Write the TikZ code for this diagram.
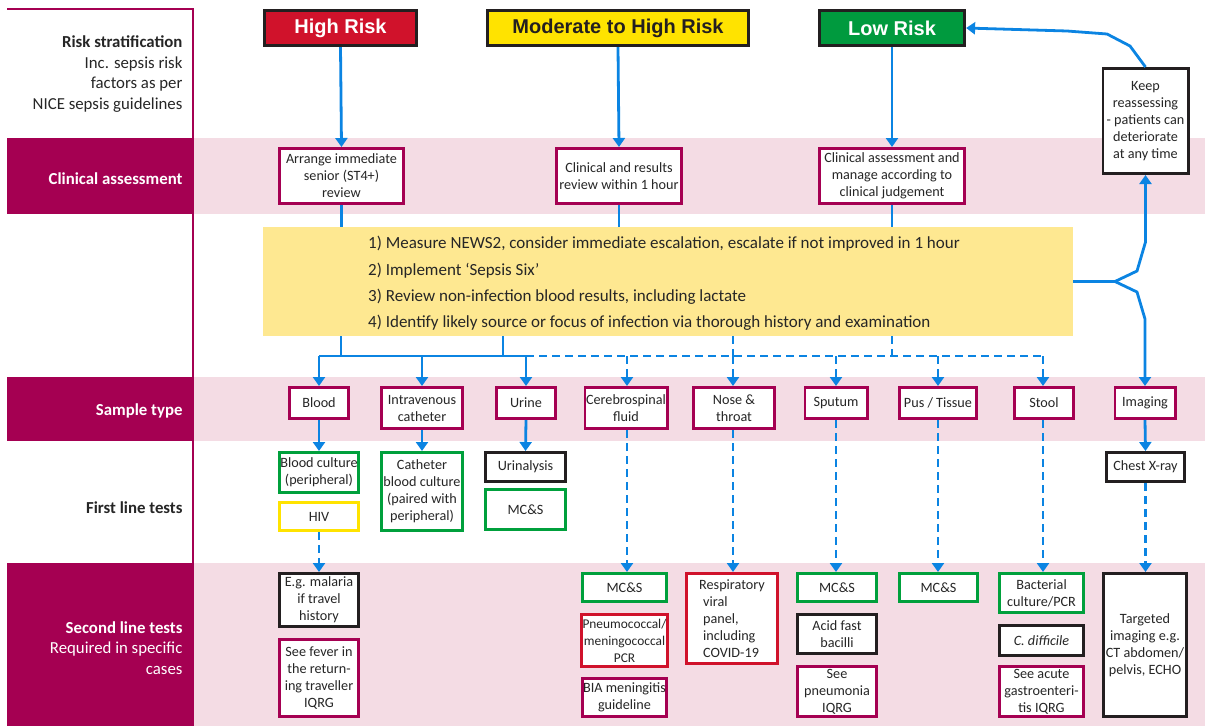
\documentclass[tikz,border=0pt]{standalone}
\usepackage{fontspec}
\setmainfont{Carlito}
\newfontfamily\hdfont{Liberation Sans}
\usetikzlibrary{arrows.meta}
\definecolor{mag}{HTML}{A50052}
\definecolor{pinkbg}{HTML}{F4DCE4}
\definecolor{blu}{HTML}{0B84E2}
\definecolor{ylw}{HTML}{FFE300}
\definecolor{ylwbox}{HTML}{FEE891}
\definecolor{grn}{HTML}{00A03C}
\definecolor{hgrn}{HTML}{009A3E}
\definecolor{rd}{HTML}{D0122B}
\definecolor{blk}{HTML}{231F20}
\definecolor{txt}{HTML}{262626}
\tikzset{
  box/.style={draw=#1, line width=2.8pt, fill=white, inner sep=1pt, align=center,
    font=\fontsize{14.2}{17}\selectfont, text=txt},
  wh/.style 2 args={minimum width={#1pt-2.8pt}, minimum height={#2pt-2.8pt}},
  hdr/.style={draw=blk, line width=3pt, font=\hdfont\bfseries\fontsize{20}{24}\selectfont},
  ln/.style={blu, line width=2.8pt},
  arr/.style={blu, line width=2.8pt, -{Triangle[width=12pt,length=9pt]}},
  dsh/.style={dash pattern=on 8pt off 5pt},
  lbl/.style={anchor=east, align=right, font=\fontsize{16.8}{20.5}\selectfont},
}
\begin{document}
\begin{tikzpicture}[x=1pt,y=-1pt]
\useasboundingbox (0,0) rectangle (1205,726);
% bands
\fill[pinkbg] (193,138) rectangle (1205,214);
\fill[pinkbg] (193,377) rectangle (1205,441);
\fill[pinkbg] (193,563) rectangle (1205,726);
\fill[mag] (7,138) rectangle (193,214);
\fill[mag] (7,377) rectangle (193,441);
\fill[mag] (7,563) rectangle (193,726);
\draw[mag, line width=2pt] (7,9) -- (193,9) -- (193,726);
% left labels
\node[lbl, text=txt] (l1) at (186,74) {\textbf{Risk stratification}\\Inc. sepsis risk\\factors as per\\NICE sepsis guidelines};
\node[lbl, text=white] (l2) at (186,179) {\textbf{Clinical assessment}};
\node[lbl, text=white] (l3) at (186,411) {\textbf{Sample type}};
\node[lbl, text=txt] (l4) at (186,508) {\textbf{First line tests}};
\node[lbl, text=white] (l5) at (186,648) {\textbf{Second line tests}\\Required in specific\\cases};
% headers
\node[hdr, fill=rd, text=white, wh={155}{38}] (hr) at (340.5,28) {High Risk};
\node[hdr, fill=ylw, text=blk, wh={264}{38}] (mr) at (618,28) {Moderate to High Risk};
\node[hdr, fill=hgrn, text=white, wh={148}{38}] (lr) at (892,28) {Low Risk};
% clinical
\node[box=mag, wh={127}{58}] (ca1) at (341.5,176) {Arrange immediate\\senior (ST4+)\\review};
\node[box=mag, wh={128}{58}] (ca2) at (619,176) {Clinical and results\\review within 1 hour};
\node[box=mag, wh={148}{58}] (ca3) at (892,176) {Clinical assessment and\\manage according to\\clinical judgement};
\node[box=blk, wh={88}{108}] (keep) at (1145.5,121) {Keep\\reassessing\\- patients can\\deteriorate\\at any time};
% yellow box
\node[fill=ylwbox, minimum width=810pt, minimum height=109pt, inner sep=0pt] (yel) at (668,281.5) {};
\node[anchor=west, align=left, inner sep=0pt, text=txt, font=\fontsize{17}{26.3}\selectfont] (yeltext) at (368,283.5)
 {1) Measure NEWS2, consider immediate escalation, escalate if not improved in 1 hour\\
  2) Implement `Sepsis Six'\\
  3) Review non-infection blood results, including lactate\\
  4) Identify likely source or focus of infection via thorough history and examination};
% sample types
\node[box=mag, wh={62}{34}] (blood) at (319,403) {Blood};
\node[box=mag, wh={84}{44}] (iv) at (422,408) {Intravenous\\catheter};
\node[box=mag, wh={62}{34}] (urine) at (526,403) {Urine};
\node[box=mag, wh={85}{44}] (csf) at (626,408) {Cerebrospinal\\fluid};
\node[box=mag, wh={84}{44}] (nose) at (734,408) {Nose \&\\throat};
\node[box=mag, wh={65}{34}] (sput) at (836,403) {Sputum};
\node[box=mag, wh={80}{34}] (pus) at (938,403) {Pus / Tissue};
\node[box=mag, wh={62}{34}] (stool) at (1044,403) {Stool};
\node[box=mag, wh={63}{34}] (img) at (1145,403) {Imaging};
% first line
\node[box=grn, wh={82}{43}] (bc) at (319,472.5) {Blood culture\\(peripheral)};
\node[box=ylw, wh={82}{31}] (hiv) at (319,516.5) {HIV};
\node[box=grn, wh={84}{81}] (cbc) at (422,491.5) {Catheter\\blood culture\\(paired with\\peripheral)};
\node[box=blk, wh={83}{32}] (ua) at (525.5,467) {Urinalysis};
\node[box=grn, wh={83}{43}] (mcs1) at (525.5,509.5) {MC\&S};
\node[box=blk, wh={81}{32}] (cxr) at (1145.5,467) {Chest X-ray};
% second line
\node[box=blk, wh={82}{56}] (mal) at (319,600) {E.g. malaria\\if travel\\history};
\node[box=mag, wh={82}{80}] (fever) at (319,678) {See fever in\\the return-\\ing traveller\\IQRG};
\node[box=grn, wh={87}{31}] (mcs2) at (624.5,587.5) {MC\&S};
\node[box=rd, wh={87}{55}, font=\fontsize{13.4}{17}\selectfont] (pcr) at (624.5,640.5) {Pneumococcal/\\meningococcal\\PCR};
\node[box=mag, wh={87}{41}] (bia) at (624.5,697.5) {BIA meningitis\\guideline};
\node[box=rd, wh={94}{93}, align=left] (resp) at (732,618.5) {Respiratory\\\hspace*{4pt}viral\\\hspace*{4pt}panel,\\\hspace*{4pt}including\\\hspace*{4pt}COVID-19};
\node[box=grn, wh={82}{31}] (mcs3) at (837,587.5) {MC\&S};
\node[box=blk, wh={82}{42}] (afb) at (837,634) {Acid fast\\bacilli};
\node[box=mag, wh={82}{53}] (pneu) at (837,691.5) {See\\pneumonia\\IQRG};
\node[box=grn, wh={81}{31}] (mcs4) at (938.5,587.5) {MC\&S};
\node[box=grn, wh={87}{42}] (bact) at (1041.5,593) {Bacterial\\culture/PCR};
\node[box=blk, wh={87}{33}] (cdiff) at (1041.5,640.5) {\textit{C. difficile}};
\node[box=mag, wh={87}{53}] (gastro) at (1041.5,691.5) {See acute\\gastroenteri-\\tis IQRG};
\node[box=blk, wh={86}{146}] (targ) at (1145,645) {Targeted\\imaging e.g.\\CT abdomen/\\pelvis, ECHO};
% connectors top
\draw[arr] (hr.south) -- (ca1.north);
\draw[arr] (mr.south) -- (ca2.north);
\draw[arr] (lr.south) -- (ca3.north);
\draw[ln] (ca1.south) -- (ca1.south |- yel.north);
\draw[ln] (ca2.south) -- (ca2.south |- yel.north);
\draw[ln] (ca3.south) -- (ca3.south |- yel.north);
% right brace
\coordinate (br) at (1115,281.5);
\draw[arr, line join=miter] (yel.east) -- (br) -- (1137,271) -- (1145.5,242) -- (keep.south);
\draw[arr, line join=miter] (br) -- (1137,292) -- (1145,319) -- (img.north);
\draw[arr] (keep.north) -- (1130,46) -- (1107,34) -- (1067,31) -- (lr.east);
% bus
\coordinate (bA) at (319,356);
\coordinate (bB) at (526,356);
\coordinate (bC) at (1043,356);
\draw[ln] (341,336) -- (341,356);
\draw[ln] (503,336) -- (503,356);
\draw[ln, dsh] (733,336) -- (733,356);
\draw[ln, dsh] (892,336) -- (892,356);
\draw[ln] (bA) -- (bB);
\draw[ln, dsh] (bB) -- (bC);
\draw[arr] (bA) -- (blood.north);
\draw[arr] (iv.north |- bA) -- (iv.north);
\draw[arr] (bB) -- (urine.north);
\draw[arr, dsh] (627,356) -- (627,386);
\draw[arr, dsh] (733,356) -- (733,386);
\draw[arr, dsh] (836,356) -- (sput.north);
\draw[arr, dsh] (938,356) -- (pus.north);
\draw[arr, dsh] (bC) -- (1043,386);
% sample -> first line
\draw[arr] (blood.south) -- (bc.north);
\draw[arr] (iv.south) -- (cbc.north);
\draw[arr] (urine.south) -- (ua.north);
\draw[arr] (img.south) -- (cxr.north);
% -> second line
\draw[arr, dsh] (hiv.south) -- (mal.north);
\draw[arr, dsh] (627,430) -- (627,572);
\draw[arr, dsh] (733,430) -- (733,572);
\draw[arr, dsh] (sput.south) -- (sput.south |- mcs3.north);
\draw[arr, dsh] (pus.south) -- (pus.south |- mcs4.north);
\draw[arr, dsh] (1043,420) -- (1043,572);
\draw[arr, dsh] (cxr.south) -- (cxr.south |- targ.north);
\end{tikzpicture}
\end{document}
